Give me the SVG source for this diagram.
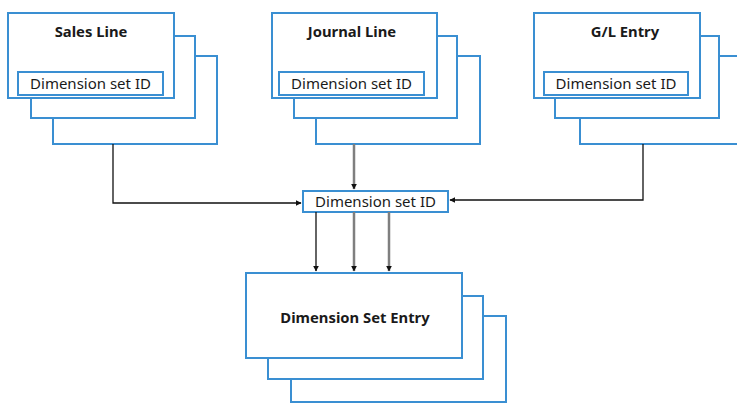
<svg xmlns="http://www.w3.org/2000/svg" width="737" height="403" viewBox="0 0 737 403">
<style>
.card{fill:#ffffff;stroke:#3a8fd2;stroke-width:2}
.t{font-family:"Noto Sans","Open Sans","Liberation Sans",sans-serif;fill:#1a1a1a;text-anchor:middle}
.b{font-weight:bold;font-size:14.8px}
.r{font-size:15px}
.k{fill:none;stroke:#111111;stroke-width:1.3}
.g{fill:none;stroke:#7f7f7f;stroke-width:2.5}
</style>
<defs>
<marker id="ah" viewBox="0 0 10 10" refX="9" refY="5" markerWidth="6" markerHeight="6" markerUnits="userSpaceOnUse" orient="auto">
<path d="M0,0 L10,5 L0,10 z" fill="#111111"/>
</marker>
</defs>
<g id="sales-line">
<rect class="card" x="53" y="56" width="164" height="88"/>
<rect class="card" x="31" y="36" width="164" height="82"/>
<rect class="card" x="8" y="13" width="166" height="85"/>
<text class="t b" x="91" y="37">Sales Line</text>
<rect class="card" x="18" y="72" width="145" height="23"/>
<text class="t r" x="90.5" y="88.5">Dimension set ID</text>
</g>
<g id="journal-line">
<rect class="card" x="316" y="56" width="164" height="88"/>
<rect class="card" x="294" y="36" width="163" height="82"/>
<rect class="card" x="272" y="13" width="165" height="85"/>
<text class="t b" x="352" y="37">Journal Line</text>
<rect class="card" x="279" y="72" width="145" height="23"/>
<text class="t r" x="351.5" y="88.5">Dimension set ID</text>
</g>
<g id="gl-entry">
<rect class="card" x="580" y="56" width="164" height="88"/>
<rect class="card" x="555" y="36" width="164" height="82"/>
<rect class="card" x="534" y="13" width="166" height="85"/>
<text class="t b" x="625" y="37">G/L Entry</text>
<rect class="card" x="544" y="72" width="144" height="23"/>
<text class="t r" x="616" y="88.5">Dimension set ID</text>
</g>
<g id="dimension-set-id">
<rect class="card" x="303" y="191" width="145" height="21"/>
<text class="t r" x="375.5" y="207">Dimension set ID</text>
</g>
<g id="dimension-set-entry">
<rect class="card" x="291" y="316" width="215" height="86"/>
<rect class="card" x="268" y="296" width="215" height="83"/>
<rect class="card" x="246" y="273" width="216" height="85"/>
<text class="t b" x="355" y="323">Dimension Set Entry</text>
</g>
<g id="connectors">
<path class="k" d="M113,144 V203 H301" marker-end="url(#ah)"/>
<path class="g" d="M354,144 V189" marker-end="url(#ah)"/>
<path class="k" d="M643,144 V200 H450" marker-end="url(#ah)"/>
<path class="k" d="M316,212 V271" marker-end="url(#ah)"/>
<path class="g" d="M354,212 V271" marker-end="url(#ah)"/>
<path class="g" d="M389,212 V271" marker-end="url(#ah)"/>
</g>
</svg>
